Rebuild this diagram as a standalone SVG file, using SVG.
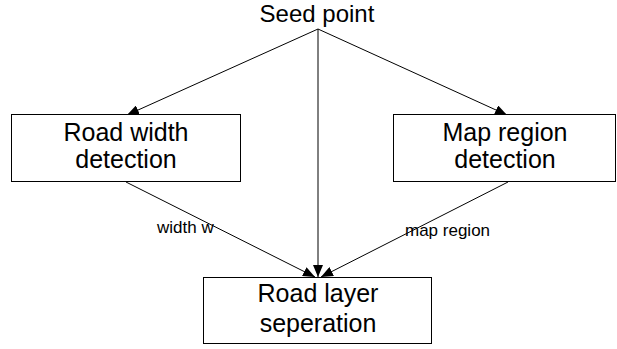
<svg xmlns="http://www.w3.org/2000/svg" width="617" height="349" viewBox="0 0 617 349">
<defs>
<marker id="ah" markerWidth="12" markerHeight="10" refX="12" refY="5" orient="auto" markerUnits="userSpaceOnUse">
<path d="M0,0 L12,5 L0,10 Z" fill="#000"/>
</marker>
<style>
.box{fill:#fff;stroke:#000;stroke-width:1}
.t{font-family:"Liberation Sans",Arial,sans-serif;font-size:25px;text-anchor:middle;fill:#000}
.s{font-size:24px}
.l{font-family:"Liberation Sans",Arial,sans-serif;font-size:17px;fill:#000}
.c{stroke:#000;stroke-width:1;fill:none;marker-end:url(#ah)}
</style>
</defs>
<rect width="617" height="349" fill="#fff"/>
<g id="seed"><text class="t s" x="317" y="22">Seed point</text></g>
<g id="connectors">
<line class="c" x1="318" y1="29" x2="127" y2="115"/>
<line class="c" x1="318" y1="29" x2="507" y2="115"/>
<line class="c" x1="318" y1="29" x2="318" y2="277"/>
<line class="c" x1="126" y1="182" x2="315" y2="277"/>
<line class="c" x1="508" y1="182" x2="321" y2="277"/>
<text class="l" x="157" y="233">width w</text>
<text class="l" x="405" y="236">map region</text>
</g>
<g id="road-width"><rect class="box" x="11.5" y="114.5" width="229" height="67"/>
<text class="t" x="126" y="141">Road width</text><text class="t" x="126" y="168">detection</text></g>
<g id="map-region"><rect class="box" x="393.5" y="114.5" width="222" height="67"/>
<text class="t" x="505" y="141">Map region</text><text class="t" x="505" y="168">detection</text></g>
<g id="road-layer"><rect class="box" x="203.5" y="277.5" width="228" height="66"/>
<text class="t" x="318" y="302">Road layer</text><text class="t" x="318" y="332">seperation</text></g>
</svg>
